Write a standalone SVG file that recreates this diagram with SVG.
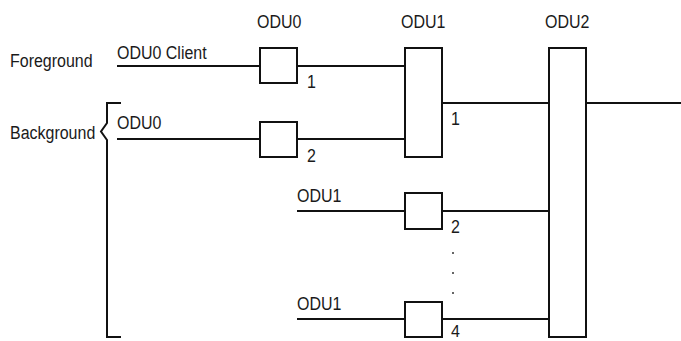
<svg xmlns="http://www.w3.org/2000/svg" width="681" height="341" viewBox="0 0 681 341">
<style>
text{font-family:"Liberation Sans",Arial,sans-serif;font-size:16px;fill:#1a1a1a}
.box{fill:#fff;stroke:#111;stroke-width:2}
.ln{fill:none;stroke:#111;stroke-width:2}
</style>
<rect width="681" height="341" fill="#fff"/>
<g id="labels">
<text transform="translate(10,67) scale(1,1.1)">Foreground</text>
<text transform="translate(10,139) scale(1,1.1)">Background</text>
<text transform="translate(257,28) scale(1,1.1)">ODU0</text>
<text transform="translate(401,28) scale(1,1.1)">ODU1</text>
<text transform="translate(545,28) scale(1,1.1)">ODU2</text>
<path class="ln" d="M121,103 H107 V123 L101,131.5 L107,140 V337 H121"/>
</g>
<g id="connectors">
<path class="ln" d="M117,66 H260 M297,66 H405"/>
<path class="ln" d="M117,139 H260 M297,139 H405"/>
<path class="ln" d="M442,103 H549 M586,103 H681"/>
<path class="ln" d="M297,211 H405 M442,211 H549"/>
<path class="ln" d="M297,319 H405 M442,319 H549"/>
<text transform="translate(117,59) scale(1,1.1)">ODU0 Client</text>
<text transform="translate(117,129) scale(1,1.1)">ODU0</text>
<text transform="translate(297,202) scale(1,1.1)">ODU1</text>
<text transform="translate(297,310) scale(1,1.1)">ODU1</text>
</g>
<g id="odu0-1">
<rect class="box" x="260" y="48" width="37" height="35"/>
<text transform="translate(307,88) scale(1,1.1)">1</text>
</g>
<g id="odu0-2">
<rect class="box" x="260" y="122" width="37" height="35"/>
<text transform="translate(307,162) scale(1,1.1)">2</text>
</g>
<g id="odu1-1">
<rect class="box" x="405" y="48" width="37" height="109"/>
<text transform="translate(451,125) scale(1,1.1)">1</text>
</g>
<g id="odu1-2">
<rect class="box" x="405" y="193" width="37" height="36"/>
<text transform="translate(451,233) scale(1,1.1)">2</text>
</g>
<g id="odu1-4">
<rect class="box" x="405" y="302" width="37" height="35"/>
<text transform="translate(451,337) scale(1,1.05)">4</text>
</g>
<g id="dots" fill="#333">
<circle cx="453" cy="253" r="1"/>
<circle cx="453" cy="273" r="1"/>
<circle cx="453" cy="293" r="1"/>
</g>
<g id="odu2">
<rect class="box" x="549" y="48" width="37" height="289"/>
</g>
</svg>
